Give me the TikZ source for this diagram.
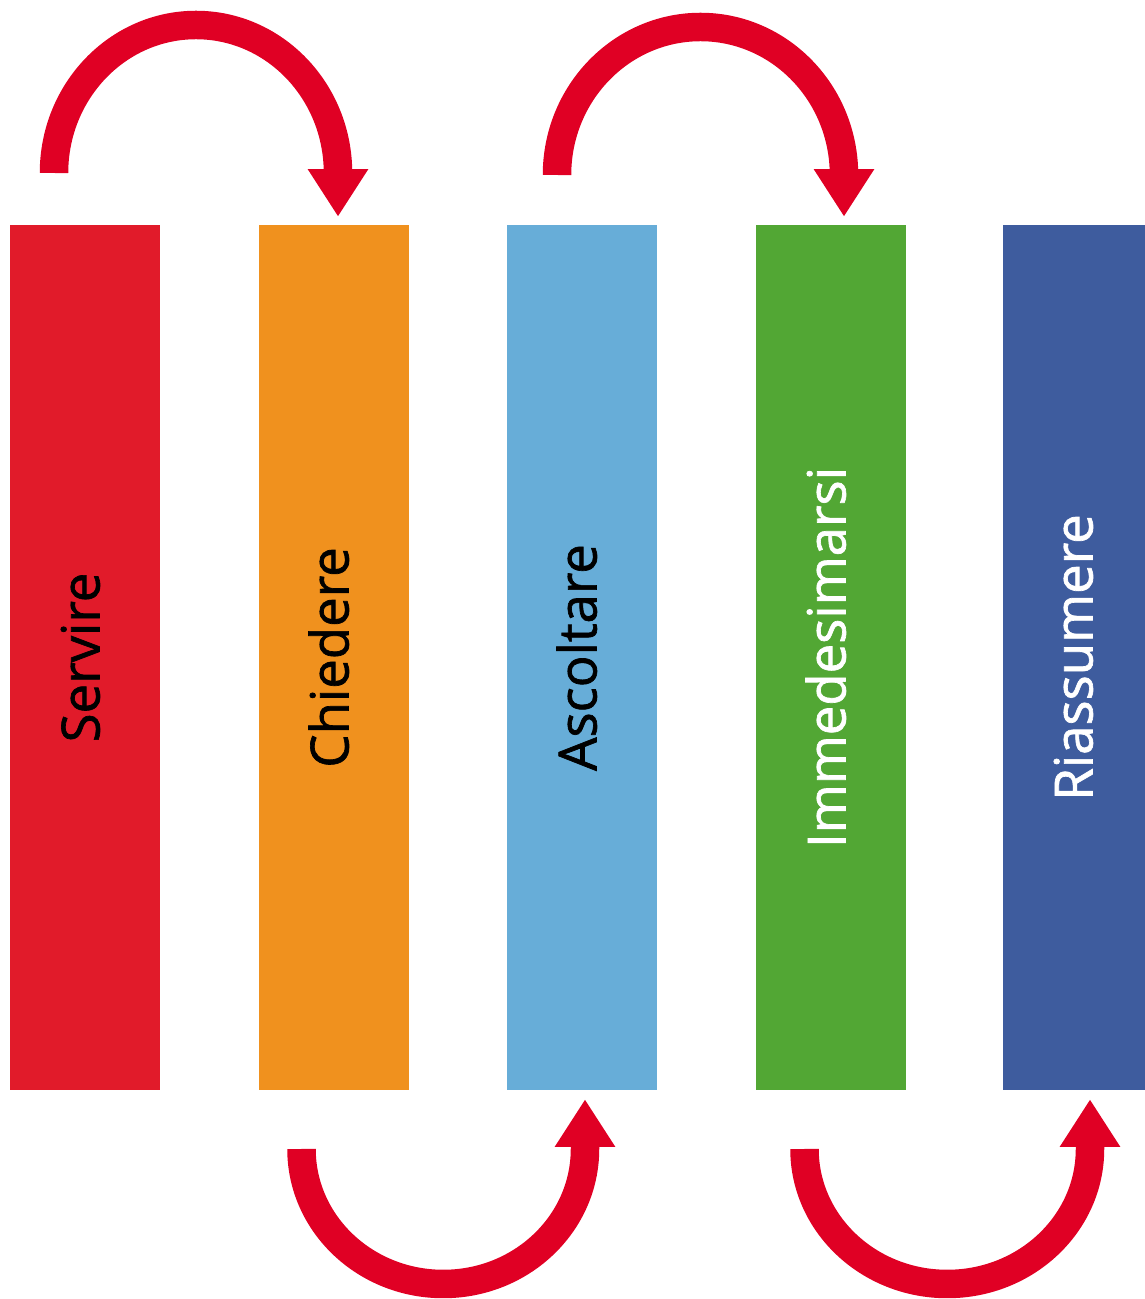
\documentclass[tikz,border=0pt]{standalone}
\usepackage{fontspec}
\setmainfont{Open Sans}
\newfontfamily\stripefont{Open Sans}[FakeBold=1.3]
\usetikzlibrary{arrows.meta}
\definecolor{servirered}{RGB}{225,27,42}
\definecolor{chiedereorange}{RGB}{240,145,30}
\definecolor{ascoltareblue}{RGB}{103,173,216}
\definecolor{immedesimarsigreen}{RGB}{82,167,52}
\definecolor{riassumereblue}{RGB}{62,92,158}
\definecolor{hopred}{RGB}{224,0,36}

\begin{document}
\begin{tikzpicture}[x=0.02cm, y=0.02cm, >={Triangle[width=1.14cm,length=0.95cm]}]
                \tikzstyle{stripe}=[rectangle, rotate=90, minimum width=17.3cm, minimum height=3cm, inner sep=0pt, font=\stripefont\fontsize{30}{36}\selectfont, text height=0.58cm, text depth=0pt]
                \tikzstyle{hop}=[->, line width=0.57cm, draw=hopred]
                \clip (0,0) rectangle (1145,1299);

                \node[stripe, fill=servirered, text=black]           (S) at (85,641.5)   {Servire};
                \node[stripe, fill=chiedereorange, text=black]       (C) at (334,641.5)  {Chiedere};
                \node[stripe, fill=ascoltareblue, text=black]        (A) at (582,641.5)  {Ascoltare};
                \node[stripe, fill=immedesimarsigreen, text=white]   (I) at (831,641.5)  {Immedesimarsi};
                \node[stripe, fill=riassumereblue, text=white]       (R) at (1078,641.5) {Riassumere};

                \coordinate (t1) at (54,1126);
                \coordinate (h1) at ([shift={(4,8)}]C.east);
                \coordinate (t2) at (557,1124);
                \coordinate (h2) at ([shift={(13,8)}]I.east);
                \coordinate (t3) at (301.5,150);
                \coordinate (h3) at ([shift={(3,-9)}]A.west);
                \coordinate (t4) at (804.5,150);
                \coordinate (h4) at ([shift={(12,-9)}]R.west);

                \draw[hop] (t1) arc[start angle=180, end angle=0, x radius=142, y radius=148] -- (h1);
                \draw[hop] (t2) arc[start angle=180, end angle=0, x radius=143.5, y radius=148] -- (h2);
                \draw[hop] (t3) arc[start angle=180, end angle=360, x radius=141.75, y radius=135] -- (h3);
                \draw[hop] (t4) arc[start angle=180, end angle=360, x radius=142.75, y radius=135] -- (h4);
            \end{tikzpicture}
\end{document}
